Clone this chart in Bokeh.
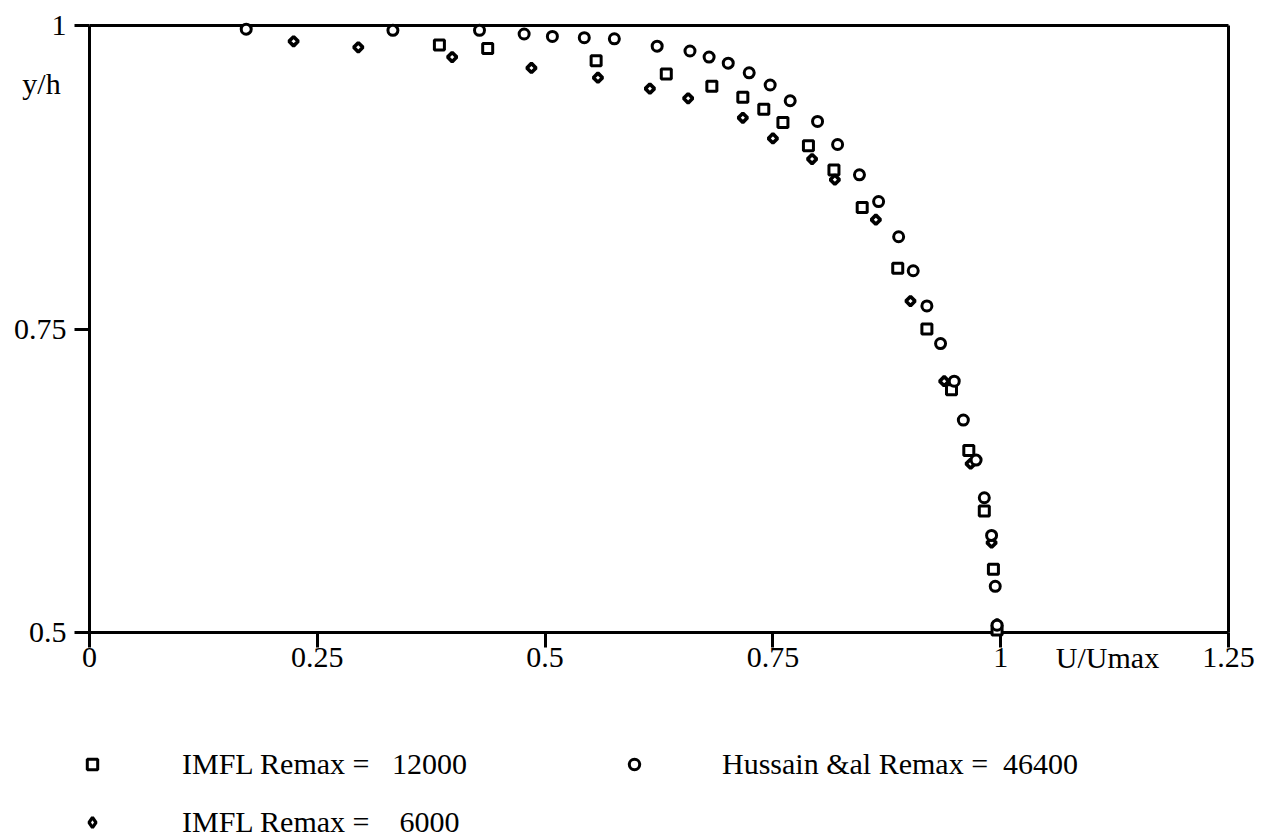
import math
from bokeh.plotting import figure
from bokeh.models import FixedTicker, Label, Legend, LegendItem, Range1d, LinearAxis
from bokeh.embed import file_html
from bokeh.resources import INLINE

# ---- data ----
u_12000 = [0.384, 0.437, 0.556, 0.633, 0.683, 0.717, 0.740, 0.761, 0.789, 0.817,
           0.848, 0.887, 0.919, 0.946, 0.965, 0.982, 0.992, 0.996]
y_12000 = [0.984, 0.981, 0.971, 0.960, 0.950, 0.941, 0.931, 0.920, 0.901, 0.881,
           0.850, 0.800, 0.750, 0.700, 0.650, 0.600, 0.552, 0.502]

u_6000 = [0.224, 0.295, 0.398, 0.485, 0.558, 0.615, 0.657, 0.717, 0.750, 0.793,
          0.818, 0.863, 0.901, 0.938, 0.967, 0.990, 0.996]
y_6000 = [0.987, 0.982, 0.974, 0.965, 0.957, 0.948, 0.940, 0.924, 0.907, 0.890,
          0.873, 0.840, 0.773, 0.707, 0.639, 0.574, 0.507]

u_46400 = [0.172, 0.333, 0.428, 0.477, 0.508, 0.543, 0.576, 0.623, 0.659, 0.680,
           0.701, 0.724, 0.747, 0.769, 0.799, 0.821, 0.845, 0.866, 0.888, 0.904,
           0.919, 0.934, 0.949, 0.959, 0.973, 0.982, 0.990, 0.994, 0.996]
y_46400 = [0.997, 0.996, 0.996, 0.993, 0.991, 0.990, 0.989, 0.983, 0.979, 0.974,
           0.969, 0.961, 0.951, 0.938, 0.921, 0.902, 0.877, 0.855, 0.826, 0.798,
           0.769, 0.738, 0.707, 0.675, 0.642, 0.611, 0.580, 0.538, 0.506]

x_limits = (0, 1.25)
y_limits = (0.5, 1.0)
x_ticks = [0, 0.25, 0.5, 0.75, 1, 1.25]
x_tick_labels = ["0", "0.25", "0.5", "0.75", "1", "1.25"]
y_ticks = [0.5, 0.75, 1]
y_tick_labels = ["0.5", "0.75", "1"]

label_12000 = "IMFL Remax =\u00a0\u00a0\u00a012000"
label_6000 = "IMFL Remax =\u00a0\u00a0\u00a0\u00a06000"
label_46400 = "Hussain &al Remax =\u00a0\u00a046400"
x_title = "U/Umax"
y_title = "y/h"

# ---- layout constants (pixels) ----
W, H = 1275, 838
BOX_L, BOX_R, BOX_T, BOX_B = 89, 1228, 25, 632
FONT = "Liberation Serif"
FS = "30px"

sx = (x_limits[1] - x_limits[0]) / (BOX_R - BOX_L)
sy = (y_limits[1] - y_limits[0]) / (BOX_B - BOX_T)
x_range = Range1d(x_limits[0] - BOX_L * sx, x_limits[1] + (W - BOX_R) * sx)
y_range = Range1d(y_limits[0] - (H - BOX_B) * sy, y_limits[1] + BOX_T * sy)


def px_x(px):
    return x_limits[0] + (px - BOX_L) * sx


def px_y(py):
    return y_limits[1] - (py - BOX_T) * sy


p = figure(width=W, height=H, x_range=x_range, y_range=y_range,
           output_backend="svg", toolbar_location=None,
           x_axis_location=None, y_axis_location=None, min_border=0)
p.grid.visible = False
p.background_fill_color = "white"
p.border_fill_color = "white"
p.outline_line_color = None


def style_axis(ax):
    ax.minor_tick_line_color = None
    ax.major_tick_in = 0
    ax.major_tick_out = 15
    ax.major_tick_line_width = 3
    ax.major_tick_line_color = "black"
    ax.axis_line_width = 3
    ax.axis_line_color = "black"
    ax.major_label_text_font = FONT
    ax.major_label_text_font_size = FS
    ax.major_label_text_color = "black"


xaxis = LinearAxis(fixed_location=y_limits[0], bounds=x_limits,
                   ticker=FixedTicker(ticks=x_ticks),
                   major_label_overrides={t: l for t, l in zip(x_ticks, x_tick_labels)})
style_axis(xaxis)
xaxis.major_label_standoff = 0
yaxis = LinearAxis(fixed_location=x_limits[0], bounds=y_limits,
                   ticker=FixedTicker(ticks=y_ticks),
                   major_label_overrides={t: l for t, l in zip(y_ticks, y_tick_labels)})
style_axis(yaxis)
yaxis.major_label_standoff = 8
top_axis = LinearAxis(fixed_location=y_limits[1], bounds=x_limits, ticker=FixedTicker(ticks=[]))
style_axis(top_axis)
right_axis = LinearAxis(fixed_location=x_limits[1], bounds=y_limits, ticker=FixedTicker(ticks=[]))
style_axis(right_axis)
p.add_layout(xaxis, "below")
p.add_layout(yaxis, "left")
p.add_layout(top_axis, "above")
p.add_layout(right_axis, "right")

r_sq = p.scatter(u_12000, y_12000, marker="square", size=10, fill_color="white",
                 line_color="black", line_width=3, level="annotation")
r_di = p.scatter(u_6000, y_6000, marker="square", angle=math.pi / 4, size=6.5,
                 fill_color="white", line_color="black", line_width=3.6, level="annotation")
r_ci = p.scatter(u_46400, y_46400, marker="circle", size=10, fill_color="white",
                 line_color="black", line_width=3, level="annotation")
# hidden twin of the 6000 series, used only as its legend swatch
# (legend swatches of scatter ignore the marker angle)
r_di_key = p.scatter(u_6000, y_6000, marker="diamond", fill_color="white",
                     line_color="black", line_width=3.2, visible=False)

p.add_layout(Label(x=px_x(41), y=px_y(83), text=y_title, text_font=FONT, text_font_size=FS,
                   text_align="center", text_baseline="middle", text_color="black"))
p.add_layout(Label(x=px_x(1107), y=px_y(657), text=x_title, text_font=FONT, text_font_size=FS,
                   text_align="center", text_baseline="middle", text_color="black"))

ITEM_H = 34
GLYPH_W = 26
common = dict(orientation="vertical", glyph_width=GLYPH_W, glyph_height=ITEM_H,
              label_height=ITEM_H, padding=0, margin=0, border_line_color=None,
              background_fill_alpha=0, label_text_font=FONT, label_text_font_size=FS,
              label_text_color="black", click_policy="none")
row1_c, row2_c = 764, 822
keyA_x, keyB_x = 92, 634      # centres of the legend swatches
textA_x, textB_x = 182, 722   # left edges of the legend texts
legA_top = row1_c - ITEM_H / 2
legA_h = 2 * ITEM_H + (row2_c - row1_c - ITEM_H)
legA = Legend(items=[LegendItem(label=label_12000, renderers=[r_sq]),
                     LegendItem(label=label_6000, renderers=[r_di_key])],
              location=(keyA_x - GLYPH_W / 2, H - (legA_top + legA_h)),
              label_standoff=int(textA_x - (keyA_x + GLYPH_W / 2)),
              spacing=row2_c - row1_c - ITEM_H, **common)
legB = Legend(items=[LegendItem(label=label_46400, renderers=[r_ci])],
              location=(keyB_x - GLYPH_W / 2, H - (legA_top + ITEM_H)),
              label_standoff=int(textB_x - (keyB_x + GLYPH_W / 2)), spacing=0, **common)
p.add_layout(legA)
p.add_layout(legB)

open("out.html", "w").write(file_html(p, INLINE))
